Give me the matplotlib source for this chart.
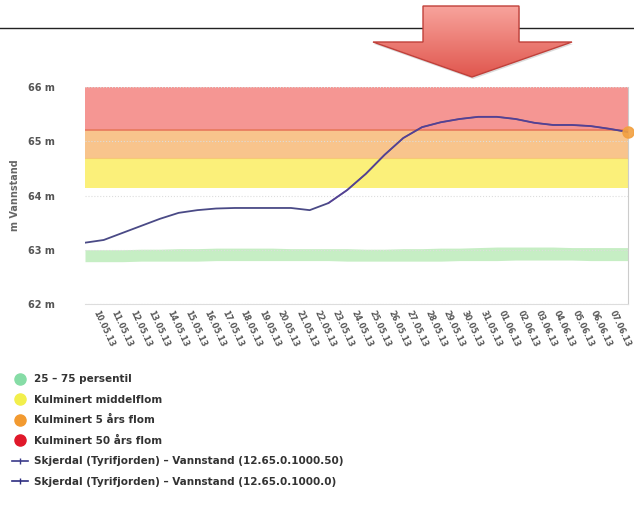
import matplotlib
matplotlib.use("Agg")
import matplotlib.pyplot as plt
import numpy as np
from matplotlib.lines import Line2D
from matplotlib.patches import Polygon

# dager som vises langs x-aksen
dates = ["%02d.%02d.13" % (d, m) for m, d in
         [(5, x) for x in range(10, 32)] + [(6, x) for x in range(1, 8)]]

# vannstand (moh) lest av figuren
level = [63.13, 63.18, 63.31, 63.44, 63.57, 63.68, 63.73, 63.76, 63.77, 63.77,
         63.77, 63.77, 63.73, 63.86, 64.10, 64.40, 64.75, 65.06, 65.26, 65.35,
         65.41, 65.45, 65.45, 65.41, 65.34, 65.30, 65.30, 65.28, 65.23, 65.17]

# persentilbånd 25-75
p25 = [62.78, 62.78, 62.78, 62.79, 62.79, 62.79, 62.79, 62.80, 62.80, 62.80,
       62.80, 62.80, 62.80, 62.80, 62.79, 62.79, 62.79, 62.79, 62.79, 62.79,
       62.80, 62.80, 62.80, 62.81, 62.81, 62.81, 62.81, 62.80, 62.80, 62.80]
p75 = [63.00, 63.00, 63.00, 63.01, 63.01, 63.02, 63.02, 63.03, 63.03, 63.03,
       63.03, 63.02, 63.02, 63.02, 63.02, 63.01, 63.01, 63.02, 63.02, 63.03,
       63.03, 63.04, 63.05, 63.05, 63.05, 63.05, 63.04, 63.04, 63.04, 63.04]

# flomnivåer
middelflom = 64.14
flom5 = 64.69
flom50 = 65.21
ytop = 66.0

yticks = [62, 63, 64, 65, 66]

legend_labels = ["25 – 75 persentil", "Kulminert middelflom", "Kulminert 5 års flom",
                 "Kulminert 50 års flom",
                 "Skjerdal (Tyrifjorden) – Vannstand (12.65.0.1000.50)",
                 "Skjerdal (Tyrifjorden) – Vannstand (12.65.0.1000.0)"]

x = np.arange(len(level))
tickpos = 0.55 + np.arange(len(dates)) * 0.985

fig = plt.figure(figsize=(6.34, 5.12), dpi=100)
ax = fig.add_axes([85/634, 1-304/512, 543/634, 217/512])

ax.fill_between(x, flom50, ytop, color="#f59693", lw=0)
ax.fill_between(x, flom5, flom50, color="#f8c48c", lw=0)
ax.fill_between(x, middelflom, flom5, color="#fbf07a", lw=0)
ax.fill_between(x, p25, p75, color="#c6eec4", lw=0)
ax.axhline(flom50, color="#e8785c", lw=1.2)
ax.axhline(flom5, color="#f4b070", lw=0.8, alpha=0.6)

ax.plot(x, level, color="#4a4a86", lw=1.3, zorder=4)
ax.plot(x[13:], level[13:], color="#5a3c9c", lw=1.1, alpha=0.7, zorder=4)
ax.plot(x[-1], level[-1], "o", color="#f2a040", ms=8, clip_on=False, zorder=5, alpha=0.9)

ax.set_xlim(0, len(level) - 1)
ax.set_ylim(62, 66)
ax.set_yticks(yticks)
ax.set_yticklabels(["%d m" % v for v in yticks], fontsize=7, color="#555555", fontweight="bold")
ax.set_xticks(tickpos)
ax.set_xticklabels(dates, rotation=-65, ha="left", va="center", rotation_mode="anchor",
                   fontsize=5.8, color="#555555", fontweight="bold")
ax.tick_params(axis="y", length=0, pad=22)
ax.tick_params(axis="x", length=0, pad=5)
ax.grid(axis="y", color="#dddddd", ls=":", lw=0.8)
for s in ["top", "left"]:
    ax.spines[s].set_visible(False)
ax.spines["bottom"].set_color("#dddddd")
ax.spines["right"].set_color("#cccccc")

fig.text(15/634, 1-195/512, "m Vannstand", rotation=90, ha="center", va="center",
         fontsize=7, color="#666666", fontweight="bold")

handles = [
    Line2D([], [], ls="", marker="o", ms=8, color="#86dca6"),
    Line2D([], [], ls="", marker="o", ms=8, color="#f2ef4c"),
    Line2D([], [], ls="", marker="o", ms=8, color="#f29a30"),
    Line2D([], [], ls="", marker="o", ms=8, color="#e0182a"),
    Line2D([], [], color="#3a3a8a", lw=1.2, marker="|", ms=5),
    Line2D([], [], color="#2c2c80", lw=1.2, marker="|", ms=5),
]
fig.legend(handles, legend_labels, loc="upper left", bbox_to_anchor=(3/634, 1-365/512),
           frameon=False, handlelength=1.5, handletextpad=0.6,
           labelspacing=1.0, labelcolor="#333333", prop={"weight": "bold", "size": 7.5})

# pil og strek over grafen
ov = fig.add_axes([0, 0, 1, 1], zorder=10)
ov.set_xlim(0, 634)
ov.set_ylim(512, 0)
ov.axis("off")
ov.patch.set_alpha(0)
ov.plot([0, 634], [28, 28], color="#222222", lw=1)
pts = [(423, 6), (519, 6), (519, 42), (572, 42), (472, 77), (373, 42), (423, 42)]
shadow = Polygon([(px + 1, py + 2) for px, py in pts], closed=True, fc="#999999",
                 ec="none", alpha=0.35)
ov.add_patch(shadow)
arrow = Polygon(pts, closed=True, fc="none", ec="#c0403a", lw=1)
ov.add_patch(arrow)
grad = np.linspace(0, 1, 100).reshape(-1, 1)
cmap = matplotlib.colors.LinearSegmentedColormap.from_list("pil", ["#f8a39c", "#e0574e"])
im = ov.imshow(grad, cmap=cmap, extent=(373, 572, 77, 6), aspect="auto", zorder=9)
im.set_clip_path(arrow)
arrow.set_zorder(11)

fig.savefig("out.png", dpi=100)
